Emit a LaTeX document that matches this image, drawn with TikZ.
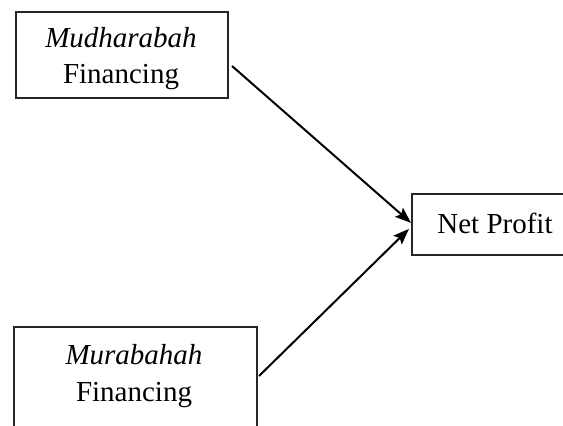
\documentclass[tikz,border=0pt]{standalone}
\usepackage{fontspec}
\setmainfont{Liberation Serif}
\usetikzlibrary{arrows.meta,calc}
\tikzset{
  boxframe/.style={draw=black!85, line width=1.7pt, rectangle, inner sep=0pt},
  lbl/.style={inner sep=0pt, anchor=base, font=\fontsize{29}{36}\selectfont},
  conn/.style={line width=2pt, -{Stealth[length=16pt,width=12pt,inset=3pt]}}
}
\begin{document}
\begin{tikzpicture}[x=1pt,y=-1pt]
\useasboundingbox (0,0) rectangle (563,426);
% boxes
\node[boxframe, minimum width=212pt, minimum height=86pt, anchor=north west] (mud) at (15,11) {};
\node[boxframe, minimum width=243pt, minimum height=120pt, anchor=north west] (mur) at (13,326) {};
\node[boxframe, minimum width=170pt, minimum height=61pt, anchor=north west] (net) at (411,193) {};
% labels
\node[lbl] (mudA) at (121,47) {\itshape Mudharabah};
\node[lbl] (mudB) at (121,83) {Financing};
\node[lbl] (murA) at (134,364) {\itshape Murabahah};
\node[lbl] (murB) at (134,401) {Financing};
\node[lbl] (netA) at (495,233) {Net Profit};
% connector ends
\coordinate (s1) at (232,66);
\coordinate (s2) at (259,376);
\coordinate (e1) at ($(net.west)+(0,-1.5)$);
\coordinate (e2) at ($(net.west)+(-2,4.5)$);
\draw[conn] (s1) -- (e1);
\draw[conn] (s2) -- (e2);
\end{tikzpicture}
\end{document}
